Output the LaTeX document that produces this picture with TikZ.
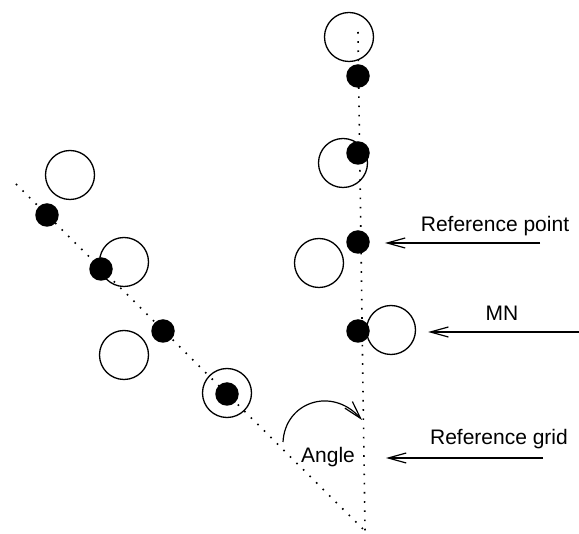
\documentclass[tikz,border=0pt]{standalone}
\usepackage{fontspec}
\setmainfont{Liberation Sans}
\usepackage{tikz}
\usetikzlibrary{arrows.meta,calc,positioning}
\tikzset{
  dotnode/.style = {circle, fill=black, inner sep=0pt, minimum size=23.5pt},
  ringnode/.style = {circle, draw=black, line width=1.3pt, inner sep=0pt, minimum size=49pt},
  gridline/.style = {line width=1.6pt, dash pattern=on 1.6pt off 7.6pt},
  pointer/.style = {line width=1.2pt, -{Straight Barb[length=18pt,width=10pt,line width=1.2pt]}},
  txt/.style = {font=\fontsize{21}{25}\selectfont, inner sep=0pt}
}
\begin{document}
\begin{tikzpicture}[x=1pt,y=-1pt]
  \useasboundingbox (0,0) rectangle (579,534);
  % reference grid lines
  \coordinate (top) at (358,32);
  \coordinate (apex) at (365,531);
  \coordinate (tail) at (16,184);
  \draw[gridline] (top) -- (apex);
  \draw[gridline] (tail) -- (apex);
  % vertical row
  \node[ringnode] (v1) at (349,37) {};
  \node[ringnode] (v2) at (343,163) {};
  \node[ringnode] (v3) at (319,263) {};
  \node[ringnode] (v4) at (391,330) {};
  \node[dotnode] (p1) at (358,76) {};
  \node[dotnode] (p2) at (358,153) {};
  \node[dotnode] (p3) at (358,242) {};
  \node[dotnode] (p4) at (358,331) {};
  % tilted row
  \node[ringnode] (w1) at (70,175) {};
  \node[ringnode] (w2) at (124,262) {};
  \node[ringnode] (w3) at (124,355) {};
  \node[ringnode] (w4) at (227,393) {};
  \node[dotnode] (q1) at (47,215) {};
  \node[dotnode] (q2) at (101,269) {};
  \node[dotnode] (q3) at (163,331) {};
  \node[dotnode] (q4) at (227,394) {};
  % labels
  \node[txt] (refpoint) at (495,226) {Reference point};
  \node[txt] (mn) at (502,313) {MN};
  \node[txt] (refgrid) at (499,439) {Reference grid};
  \node[txt] (angle) at (328,457) {Angle};
  \coordinate (pointtail) at (540,243);
  \coordinate (mntail) at (579,332);
  \coordinate (gridtail) at (543,458);
  \coordinate (arcstart) at (283,442);
  \coordinate (arcend) at (362,420);
  % pointers
  \draw[pointer, shorten >=15pt] (pointtail) -- (pointtail -| p3.east);
  \draw[pointer, shorten >=12pt] (mntail) -- (mntail -| v4.east);
  \draw[pointer, shorten >=21pt] (gridtail) -- (gridtail -| apex);
  \draw[pointer] (arcstart) .. controls (285,402) and (332,386) .. (arcend);
\end{tikzpicture}
\end{document}
